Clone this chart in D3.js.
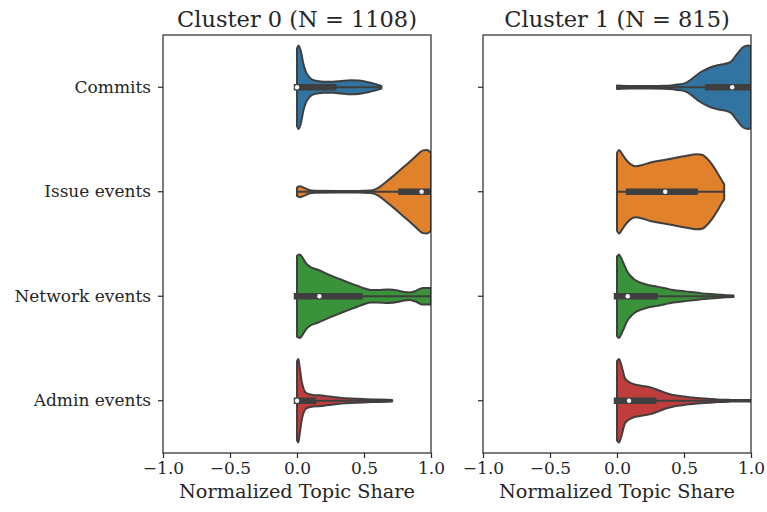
<!DOCTYPE html>
<html>
<head>
<meta charset="utf-8">
<script src="https://cdn.jsdelivr.net/npm/d3@7"></script>
<style>
  body { margin: 0; background: #fff; }
  svg { font-family: "DejaVu Serif", serif; }
</style>
</head>
<body>
<svg id="chart" width="767" height="512"></svg>
<script>
// categories and panels
const categories = ["Commits", "Issue events", "Network events", "Admin events"];
const clusterTitles = ["Cluster 0 (N = 1108)", "Cluster 1 (N = 815)"];
const xTicks = [-1.0, -0.5, 0.0, 0.5, 1.0];
const palette = ["#3274a1", "#e1812c", "#3a923a", "#c03d3e"];

// density outlines: [value, relative half width]
const cluster0Commits = [[0,0.93],[0.012,1.0],[0.03,0.85],[0.047,0.57],[0.065,0.38],[0.085,0.27],[0.11,0.19],[0.15,0.15],[0.2,0.13],[0.27,0.13],[0.33,0.15],[0.4,0.17],[0.46,0.16],[0.53,0.12],[0.58,0.08],[0.61,0.05],[0.63,0.03]];
const cluster0Issues = [[0,0.1],[0.02,0.13],[0.05,0.1],[0.09,0.04],[0.13,0.025],[0.3,0.02],[0.45,0.02],[0.55,0.03],[0.6,0.08],[0.67,0.25],[0.72,0.38],[0.77,0.52],[0.82,0.66],[0.87,0.8],[0.91,0.92],[0.94,0.99],[0.97,1.0],[1.0,0.93]];
const cluster0Network = [[0,0.97],[0.02,1.0],[0.04,0.93],[0.07,0.78],[0.1,0.7],[0.15,0.64],[0.25,0.5],[0.35,0.37],[0.45,0.25],[0.5,0.19],[0.55,0.15],[0.6,0.15],[0.68,0.16],[0.75,0.14],[0.8,0.1],[0.84,0.09],[0.88,0.12],[0.94,0.2],[1.0,0.2]];
const cluster0Admin = [[0,0.95],[0.01,1.0],[0.02,0.8],[0.035,0.46],[0.05,0.28],[0.07,0.18],[0.12,0.14],[0.17,0.13],[0.22,0.11],[0.27,0.09],[0.32,0.07],[0.37,0.06],[0.45,0.045],[0.52,0.035],[0.6,0.03],[0.71,0.02]];

const cluster1Commits = [[0,0.04],[0.1,0.03],[0.25,0.03],[0.35,0.035],[0.42,0.05],[0.47,0.07],[0.51,0.1],[0.56,0.2],[0.61,0.33],[0.66,0.42],[0.71,0.49],[0.77,0.54],[0.83,0.58],[0.86,0.64],[0.88,0.73],[0.91,0.85],[0.93,0.93],[0.96,0.99],[0.98,1.0],[1.0,0.97]];
const cluster1Issues = [[0,0.93],[0.015,1.0],[0.035,0.92],[0.06,0.8],[0.1,0.66],[0.14,0.61],[0.19,0.64],[0.25,0.7],[0.37,0.77],[0.5,0.85],[0.6,0.9],[0.64,0.88],[0.67,0.8],[0.71,0.65],[0.75,0.45],[0.78,0.28],[0.8,0.18]];
const cluster1Network = [[0,0.95],[0.015,1.0],[0.03,0.92],[0.05,0.78],[0.075,0.6],[0.1,0.49],[0.13,0.4],[0.17,0.33],[0.23,0.27],[0.3,0.23],[0.36,0.19],[0.42,0.15],[0.5,0.12],[0.55,0.1],[0.62,0.075],[0.67,0.06],[0.72,0.05],[0.77,0.035],[0.82,0.025],[0.87,0.02]];
const cluster1Admin = [[0,0.95],[0.015,1.0],[0.03,0.88],[0.06,0.54],[0.09,0.45],[0.12,0.4],[0.18,0.36],[0.25,0.32],[0.31,0.25],[0.37,0.18],[0.43,0.13],[0.5,0.1],[0.56,0.08],[0.62,0.06],[0.68,0.05],[0.75,0.03],[0.85,0.02],[1.0,0.015]];

// inner box: [q1, median, q3, whisker low, whisker high]
const cluster0Boxes = [[0,0,0.27,0,0.63],[0.78,0.93,1.0,0,1.0],[0,0.167,0.465,0,1.0],[0,0,0.12,0,0.71]];
const cluster1Boxes = [[0.68,0.86,1.0,0,1.0],[0.09,0.36,0.58,0,0.8],[0,0.08,0.28,0,0.87],[0,0.09,0.27,0,1.0]];

const densities = [
    [cluster0Commits, cluster0Issues, cluster0Network, cluster0Admin],
    [cluster1Commits, cluster1Issues, cluster1Network, cluster1Admin]
];
const boxes = [cluster0Boxes, cluster1Boxes];

const svg = d3.select("#chart");
const lineColor = "#3f3f3f";
const textColor = "#262626";
const plotTop = 35, plotBottom = 453;
const panelLefts = [163, 483], panelWidth = 268;

const y = d3.scaleBand().domain(categories).range([plotTop, plotBottom]);
const halfMax = y.bandwidth() * 0.4;

clusterTitles.forEach((title, p) => {
    const x = d3.scaleLinear().domain([-1, 1]).range([panelLefts[p], panelLefts[p] + panelWidth]);
    const g = svg.append("g");

    // clip marks to the axes box, like matplotlib does
    svg.append("clipPath").attr("id", `clip${p}`)
        .append("rect")
        .attr("x", panelLefts[p]).attr("y", plotTop)
        .attr("width", panelWidth).attr("height", plotBottom - plotTop);
    const marks = g.append("g").attr("clip-path", `url(#clip${p})`);

    // violins
    categories.forEach((cat, i) => {
        const cy = y(cat) + y.bandwidth() / 2;
        const area = d3.area()
            .x(d => x(d[0]))
            .y0(d => cy - d[1] * halfMax)
            .y1(d => cy + d[1] * halfMax)
            .curve(d3.curveMonotoneX);
        marks.append("path")
            .attr("d", area(densities[p][i]))
            .attr("fill", palette[i])
            .attr("stroke", lineColor)
            .attr("stroke-width", 2)
            .attr("stroke-linejoin", "round");

        const b = boxes[p][i];
        marks.append("line")
            .attr("x1", x(b[3])).attr("x2", x(b[4]))
            .attr("y1", cy).attr("y2", cy)
            .attr("stroke", lineColor).attr("stroke-width", 2);
        marks.append("line")
            .attr("x1", x(b[0])).attr("x2", x(b[2]))
            .attr("y1", cy).attr("y2", cy)
            .attr("stroke", lineColor).attr("stroke-width", 6.5)
            .attr("stroke-linecap", "square");
        marks.append("circle")
            .attr("cx", x(b[1])).attr("cy", cy).attr("r", 2.2)
            .attr("fill", "#fff");
    });

    // frame
    g.append("rect")
        .attr("x", panelLefts[p]).attr("y", plotTop)
        .attr("width", panelWidth).attr("height", plotBottom - plotTop)
        .attr("fill", "none").attr("stroke", textColor).attr("stroke-width", 1.2);

    const xAxis = g.append("g")
        .attr("transform", `translate(0,${plotBottom})`)
        .call(d3.axisBottom(x).tickValues(xTicks).tickSize(5).tickPadding(4)
            .tickFormat(d => d3.format(".1f")(d).replace("-", "\u2212")));
    xAxis.select(".domain").remove();
    xAxis.selectAll("line").attr("stroke", textColor).attr("stroke-width", 1.2);
    xAxis.selectAll("text").attr("font-family", "DejaVu Serif").attr("font-size", 17).attr("fill", textColor);

    const yAxis = g.append("g")
        .attr("transform", `translate(${panelLefts[p]},0)`)
        .call(d3.axisLeft(y).tickSize(5).tickPadding(7).tickFormat(p === 0 ? d => d : () => ""));
    yAxis.select(".domain").remove();
    yAxis.selectAll("line").attr("stroke", textColor).attr("stroke-width", 1.2);
    yAxis.selectAll("text").attr("font-family", "DejaVu Serif").attr("font-size", 17).attr("fill", textColor);

    g.append("text")
        .attr("x", panelLefts[p] + panelWidth / 2).attr("y", 27)
        .attr("text-anchor", "middle")
        .attr("font-size", 22.5).attr("fill", textColor)
        .text(title);

    g.append("text")
        .attr("x", panelLefts[p] + panelWidth / 2).attr("y", 498)
        .attr("text-anchor", "middle")
        .attr("font-size", 19.3).attr("fill", textColor)
        .text("Normalized Topic Share");
});
</script>
</body>
</html>
